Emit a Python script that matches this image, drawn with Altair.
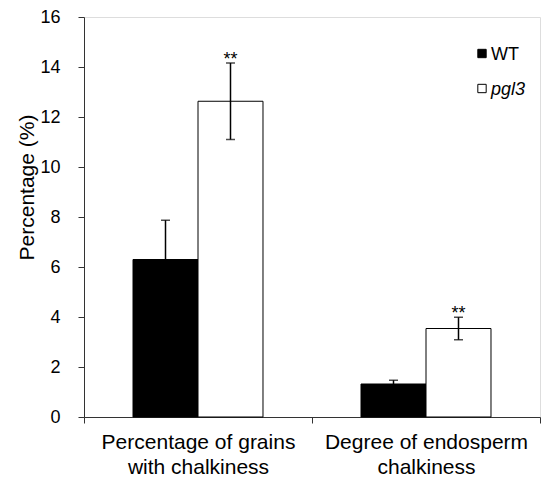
import altair as alt
import pandas as pd

categories = ["Percentage of grains|with chalkiness", "Degree of endosperm|chalkiness"]
series = ["WT", "pgl3"]
means = {"WT": [6.3, 1.32], "pgl3": [12.63, 3.54]}
errors = {"WT": [1.57, 0.15], "pgl3": [1.53, 0.45]}
signif = {"WT": ["", ""], "pgl3": ["**", "**"]}
y_ticks = [0, 2, 4, 6, 8, 10, 12, 14, 16]

rows = []
for s in series:
    for i, c in enumerate(categories):
        rows.append({"category": c, "series": s, "mean": means[s][i],
                     "err": errors[s][i], "sig": signif[s][i]})
df = pd.DataFrame(rows)

FONT = "Liberation Sans"
W, H = 456, 400

x_enc = alt.X("category:N", sort=categories,
              scale=alt.Scale(paddingInner=0, paddingOuter=0),
              axis=alt.Axis(title=None, labelExpr="split(datum.label, '|')",
                            labelAngle=0, labelFontSize=21, labelFont=FONT,
                            labelColor="black", labelLineHeight=25,
                            labelPadding=8, labelLimit=400, tickBand="extent",
                            tickSize=6, tickColor="#333", domainColor="#333",
                            labelBaseline="top"))
xo_enc = alt.XOffset("series:N", sort=series,
                     scale=alt.Scale(paddingInner=0, paddingOuter=0.754))
y_scale = alt.Scale(domain=[0, 16], nice=False)

base = alt.Chart(df).transform_calculate(
    lower="datum.mean - datum.err", upper="datum.mean + datum.err")

bars = base.mark_bar(stroke="black", strokeWidth=1).encode(
    x=x_enc, xOffset=xo_enc,
    y=alt.Y("mean:Q", scale=y_scale,
            axis=alt.Axis(values=y_ticks, title="Percentage (%)", grid=False,
                          labelFontSize=18, labelFont=FONT, labelColor="black",
                          labelPadding=18, tickSize=6, tickColor="#333",
                          domainColor="#333", titleFontSize=21, titleFont=FONT,
                          titleFontWeight="normal", titleColor="black",
                          titleX=-57, titleY=170, titleBaseline="middle",
                          titleAngle=-90)),
    fill=alt.Fill("series:N", sort=series,
                  scale=alt.Scale(domain=series, range=["black", "white"]),
                  legend=None),
)

err_rule = base.mark_rule(color="black", strokeWidth=1.5).encode(
    x=x_enc, xOffset=xo_enc, y="lower:Q", y2="upper:Q")
cap_hi = base.mark_tick(color="black", thickness=1.5, size=9, orient="horizontal").encode(
    x=x_enc, xOffset=xo_enc, y="upper:Q")
cap_lo = base.mark_tick(color="black", thickness=1.5, size=9, orient="horizontal").encode(
    x=x_enc, xOffset=xo_enc, y="lower:Q")
stars = base.mark_text(font=FONT, fontSize=18, baseline="alphabetic", dy=2,
                       color="black").encode(
    x=x_enc, xOffset=xo_enc, y="upper:Q", text="sig:N")

legend_layers = []
legend_pos = [(36.5, 42.5, "black", "normal"), (71.5, 77.5, "white", "italic")]
leg_df = pd.DataFrame({"series": series})
for s, (sy, ty, fillc, style) in zip(series, legend_pos):
    d = leg_df[leg_df["series"] == s]
    sq = alt.Chart(d).mark_square(size=70, fill=fillc, stroke="black",
                                  strokeWidth=1, opacity=1).encode(
        x=alt.value(398), y=alt.value(sy))
    tx = alt.Chart(d).mark_text(font=FONT, fontSize=18, align="left",
                                baseline="alphabetic", fontStyle=style,
                                color="black").encode(
        x=alt.value(407), y=alt.value(ty), text="series:N")
    legend_layers += [sq, tx]

chart = alt.layer(bars, err_rule, cap_hi, cap_lo, stars, *legend_layers).properties(
    width=W, height=H, autosize=alt.AutoSizeParams(type="none"),
    padding={"left": 76, "top": 9, "right": 10, "bottom": 60},
).configure_view(stroke=None).configure(background="white")

chart.save("out.html", embed_options={"renderer": "svg", "actions": False})
